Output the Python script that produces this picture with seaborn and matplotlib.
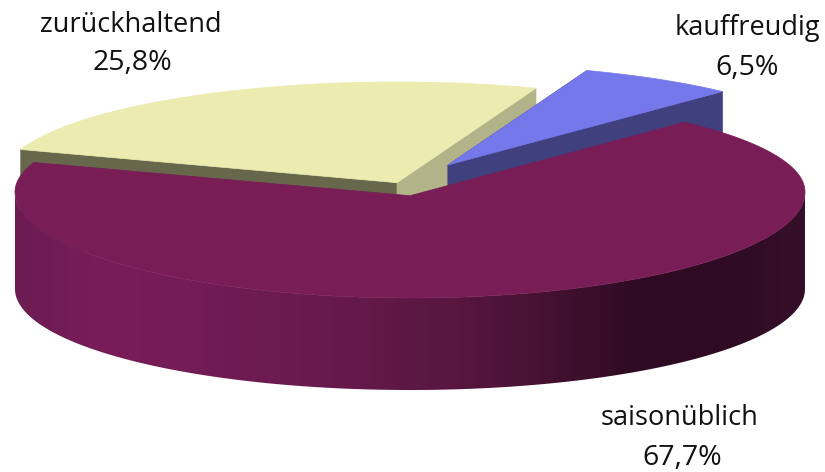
import numpy as np
import matplotlib
matplotlib.use('Agg')
import matplotlib.pyplot as plt
from matplotlib.patches import Polygon
import seaborn as sns

# values as printed in the chart
categories = ['saisonüblich', 'zurückhaltend', 'kauffreudig']
shares = [67.7, 25.8, 6.5]

# chart layout in pixels
start_angle = 46
radius_x = 395
radius_back = 97
radius_front = 106
radius_bottom = 101
depth = 97
apex_drop = 3.7
centers = {'saisonüblich': (410, 192), 'zurückhaltend': (397, 179), 'kauffreudig': (448, 161.3)}
label_pos = {'saisonüblich': (680, 418), 'zurückhaltend': (131, 25), 'kauffreudig': (747, 28)}
value_pos = {'saisonüblich': (682, 458), 'zurückhaltend': (132, 63), 'kauffreudig': (747, 68)}

top_colors = {'zurückhaltend': '#ecebb0', 'kauffreudig': '#7478ea', 'saisonüblich': '#781d56'}
wall_first = {'zurückhaltend': '#67674c', 'kauffreudig': '#41407f'}
wall_second = {'zurückhaltend': '#b3b38a', 'kauffreudig': '#41407f'}
side_stops = ['#6c1c52', '#781d57', '#731c55', '#6b1b50', '#631949', '#581640', '#471232', '#300c24', '#2e0b22', '#350f28']

sns.set_theme(style='white')
plt.rcParams['font.family'] = ['Open Sans', 'DejaVu Sans']

order = {'zurückhaltend': 1, 'kauffreudig': 3, 'saisonüblich': 5}


def rim(name, a, b, n=300):
    t = np.radians(np.linspace(a, b, n))
    cx, cy = centers[name]
    ry = np.where(np.sin(t) > 0, radius_back, radius_front)
    return cx + radius_x * np.cos(t), cy - ry * np.sin(t)


def draw_top(ax, name, a, b):
    x, y = rim(name, a, b)
    cx, cy = centers[name]
    ax.fill(np.r_[cx, x], np.r_[cy + apex_drop, y], color=top_colors[name], lw=0.5, zorder=order[name] + 1)


def draw_wall(ax, name, angle, color):
    x, y = rim(name, angle, angle, 1)
    cx, cy = centers[name]
    ax.fill([cx, x[0], x[0], cx],
            [cy + apex_drop, y[0], y[0] + depth, cy + apex_drop + depth],
            color=color, lw=0.5, zorder=order[name])


fig = plt.figure(figsize=(8.25, 4.72), dpi=100)
ax = fig.add_axes([0, 0, 1, 1])

# slice angles come from the shares, clockwise from the start angle
sweeps = np.array(shares) / sum(shares) * 360
ends = start_angle - np.cumsum(sweeps)
starts = np.r_[start_angle, ends[:-1]]

for name, a, b in zip(categories, starts, ends):
    if name != 'saisonüblich':
        # the two pulled out slices show their cut faces
        draw_wall(ax, name, (a + 360) % 360, wall_first[name])
        draw_wall(ax, name, (b + 360) % 360, wall_second[name])
    draw_top(ax, name, a, b)

# outer wall of the big slice, horizontal gradient clipped to its outline
name = 'saisonüblich'
xs, ys = rim(name, -180, 0)
t = np.radians(np.linspace(0, -180, 300))
low_x = centers[name][0] + radius_x * np.cos(t)
low_y = centers[name][1] + depth - radius_bottom * np.sin(t)
outline = Polygon(np.c_[np.r_[xs, low_x], np.r_[ys, low_y]], closed=True, transform=ax.transData, fc='none', ec='none')
ax.add_patch(outline)
gradient = np.array(sns.blend_palette(side_stops, n_colors=400))[np.newaxis, :, :3]
img = ax.imshow(gradient, extent=(xs.min(), xs.max(), 472, 0), aspect='auto', zorder=order[name], interpolation='bilinear')
img.set_clip_path(outline)

ax.set_xlim(0, 825)
ax.set_ylim(472, 0)
ax.axis('off')

for name, share in zip(categories, shares):
    ax.text(*label_pos[name], name, ha='center', va='center', fontsize=19.5, color='#111111')
    ax.text(*value_pos[name], f'{share:.1f}%'.replace('.', ','), ha='center', va='center', fontsize=20.5, color='#111111')

fig.savefig('out.png', dpi=100)
